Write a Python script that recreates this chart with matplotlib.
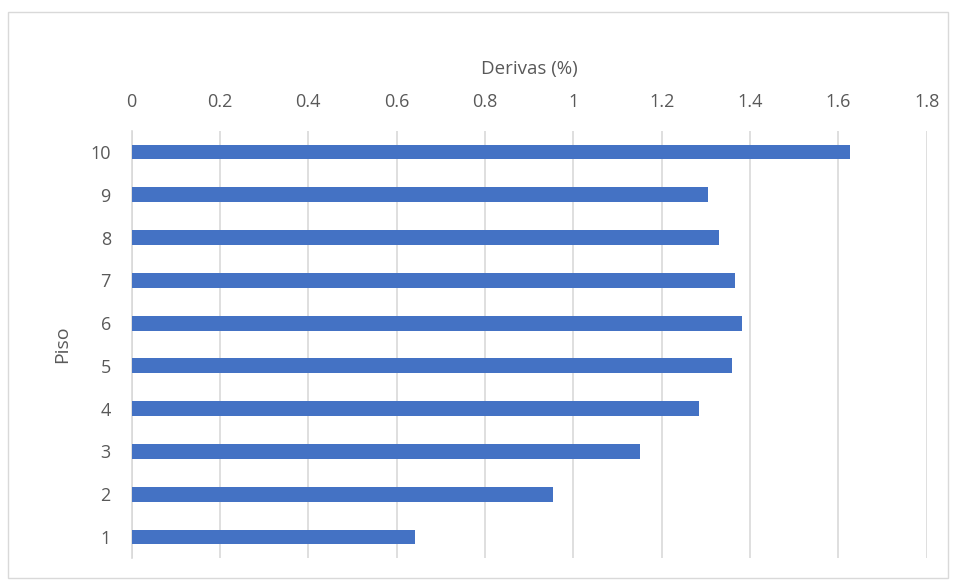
import matplotlib.pyplot as plt
from matplotlib.patches import Rectangle

# Drift per storey
pisos = [1, 2, 3, 4, 5, 6, 7, 8, 9, 10]
derivas = [0.642, 0.953, 1.152, 1.285, 1.359, 1.381, 1.367, 1.329, 1.304, 1.627]
x_ticks = [0, 0.2, 0.4, 0.6, 0.8, 1, 1.2, 1.4, 1.6, 1.8]
x_tick_labels = ["0", "0.2", "0.4", "0.6", "0.8", "1", "1.2", "1.4", "1.6", "1.8"]

text_color = "#595959"
plt.rcParams["font.family"] = ["Open Sans", "DejaVu Sans"]

fig = plt.figure(figsize=(9.56, 5.81), dpi=100)
ax = fig.add_axes([131.6 / 956, 1 - 558.4 / 581, 795 / 956, 427.8 / 581])

ax.barh(pisos, derivas, height=0.35, color="#4472C4", zorder=3)

ax.set_xlim(0, 1.8)
ax.set_ylim(0.5, 10.5)
ax.set_xticks(x_ticks)
ax.set_xticklabels(x_tick_labels)
ax.set_yticks(pisos)
ax.set_yticklabels([str(p) for p in pisos])

ax.xaxis.tick_top()
ax.xaxis.set_label_position("top")
ax.tick_params(axis="x", length=0, pad=14, labelsize=13, labelcolor=text_color)
ax.tick_params(axis="y", length=0, pad=15, labelsize=13, labelcolor=text_color)
ax.set_xlabel("Derivas (%)", fontsize=13.5, color=text_color, labelpad=14)
ax.set_ylabel("Piso", fontsize=14, color=text_color, labelpad=14)

ax.grid(axis="x", color="#D9D9D9", linewidth=1.2, zorder=0)
for side in ["top", "right", "bottom"]:
    ax.spines[side].set_visible(False)
ax.spines["left"].set_color("#D9D9D9")
ax.spines["left"].set_linewidth(1.2)

# light frame round the whole chart
fig.patches.append(Rectangle((8 / 956, 3 / 581), 940 / 956, 566 / 581,
                             transform=fig.transFigure, fill=False,
                             edgecolor="#D9D9D9", linewidth=1))

fig.savefig("out.png", dpi=100)
